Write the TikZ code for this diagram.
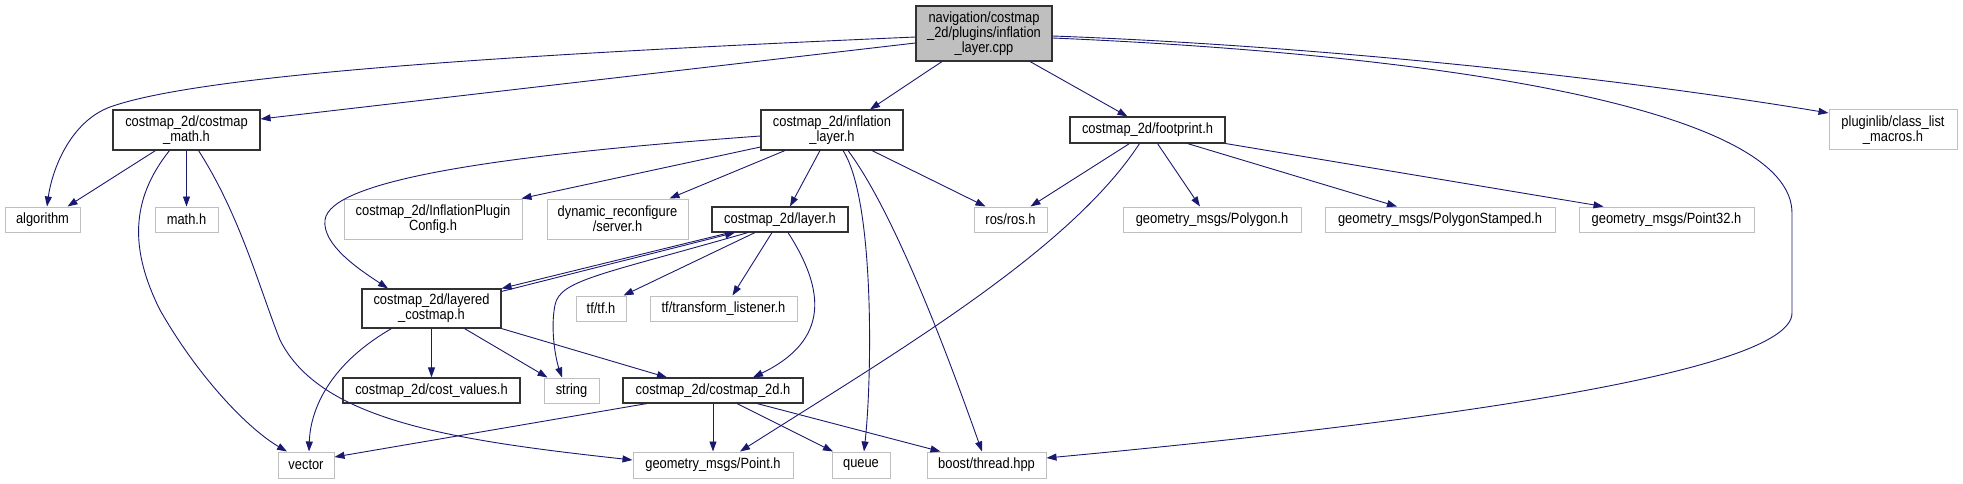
\documentclass[tikz,border=0pt]{standalone}
\usepackage{fontspec}
\setmainfont{Liberation Sans}[FakeStretch=0.87]
\usepackage{tikz}
\usetikzlibrary{arrows.meta}
\definecolor{EdgeBlue}{RGB}{25,25,112}
\definecolor{BoxGray}{RGB}{191,191,191}
\definecolor{FrameDark}{RGB}{50,50,50}

\begin{document}
\begin{tikzpicture}[x=1pt,y=-1pt,>={Triangle[length=10pt,width=7pt]},
  every node/.style={font=\fontsize{14.8}{14.7}\selectfont,align=center,inner sep=0pt},
  boxsize/.style 2 args={minimum width=#1pt,minimum height=#2pt},
  root/.style={draw=FrameDark,fill=BoxGray,line width=1.1pt},
  doc/.style={draw=FrameDark,fill=white,line width=1.1pt},
  ext/.style={draw=BoxGray,fill=white,line width=1pt},
  dep/.style={->,EdgeBlue,line width=0.9pt}]
  \useasboundingbox (0,0) rectangle (1963,484);

  % Fila 0
  \node[root,boxsize={136}{55}] (main) at (984,33.5) {navigation/costmap\\\_2d/plugins/inflation\\\_layer.cpp};

  % Fila 1
  \node[doc,boxsize={147}{40}] (cmath) at (186.5,130) {costmap\_2d/costmap\\\_math.h};
  \node[doc,boxsize={142}{40}] (inflh) at (832,130) {costmap\_2d/inflation\\\_layer.h};
  \node[doc,boxsize={155}{26}] (foot) at (1147.5,130) {costmap\_2d/footprint.h};
  \node[ext,boxsize={128}{40}] (plugin) at (1893,130) {pluginlib/class\_list\\\_macros.h};

  % Fila 2
  \node[ext,boxsize={75}{25}] (algo) at (42.5,219.5) {algorithm};
  \node[ext,boxsize={63}{25}] (mathh) at (186.5,219.5) {math.h};
  \node[ext,boxsize={178}{40}] (ipc) at (433,219) {costmap\_2d/InflationPlugin\\Config.h};
  \node[ext,boxsize={141}{40}] (dynrec) at (617.5,219) {dynamic\_reconfigure\\/server.h};
  \node[doc,boxsize={136}{25}] (layerh) at (780,219.5) {costmap\_2d/layer.h};
  \node[ext,boxsize={73}{25}] (ros) at (1010.5,219.5) {ros/ros.h};
  \node[ext,boxsize={178}{25}] (polygon) at (1212,219.5) {geometry\_msgs/Polygon.h};
  \node[ext,boxsize={230}{25}] (polystamp) at (1440,219.5) {geometry\_msgs/PolygonStamped.h};
  \node[ext,boxsize={175}{25}] (point32) at (1666.5,219.5) {geometry\_msgs/Point32.h};

  % Fila 3
  \node[doc,boxsize={139}{39}] (layered) at (431.5,308.5) {costmap\_2d/layered\\\_costmap.h};
  \node[ext,boxsize={50}{25}] (tfh) at (601,308.5) {tf/tf.h};
  \node[ext,boxsize={147}{25}] (tflisten) at (723.5,308.5) {tf/transform\_listener.h};

  % Fila 4
  \node[doc,boxsize={177}{25}] (costval) at (431.5,390.5) {costmap\_2d/cost\_values.h};
  \node[ext,boxsize={55}{25}] (string) at (571.5,390.5) {string};
  \node[doc,boxsize={180}{25}] (c2d) at (713,390.5) {costmap\_2d/costmap\_2d.h};

  % Fila 5
  \node[ext,boxsize={56}{26}] (vector) at (306,465) {vector};
  \node[ext,boxsize={160}{26}] (pointh) at (713,465) {geometry\_msgs/Point.h};
  \node[ext,boxsize={58}{26}] (queue) at (861,465) {queue};
  \node[ext,boxsize={119}{26}] (boost) at (986.5,465) {boost/thread.hpp};

  % Desde inflation_layer.cpp
  \draw[dep] ([yshift=-3.5pt]main.west) .. controls (500,55) and (200,75) .. (110,107)
    .. controls (70,122) and (52,170) .. ([xshift=4.5pt]algo.north);
  \draw[dep] ([yshift=-9.5pt]main.west) -- ([yshift=11pt]cmath.east);
  \draw[dep] ([xshift=-42pt]main.south) -- ([xshift=38pt]inflh.north);
  \draw[dep] ([xshift=46pt]main.south) -- ([xshift=-20pt]foot.north);
  \draw[dep] ([yshift=-2.5pt]main.east) .. controls (1300,45) and (1600,75) .. ([yshift=17pt]plugin.west);
  \draw[dep] ([yshift=-4.5pt]main.east) .. controls (1450,55) and (1792,110) .. (1792,213)
    -- (1792,313) .. controls (1792,375) and (1400,425) .. ([yshift=7pt]boost.east);

  % Desde inflation_layer.h
  \draw[dep] ([yshift=-6pt]inflh.west) .. controls (500,155) and (330,180) .. (325,220)
    .. controls (322,245) and (360,270) .. ([xshift=-43.5pt]layered.north);
  \draw[dep] ([yshift=-17pt]inflh.west) -- ([xshift=-1pt]ipc.north east);
  \draw[dep] ([xshift=-47pt]inflh.south) -- ([xshift=52pt]dynrec.north);
  \draw[dep] ([xshift=-12pt]inflh.south) -- ([xshift=10pt]layerh.north);
  \draw[dep] ([xshift=11pt]inflh.south) .. controls (875,200) and (872,380) .. ([xshift=3pt]queue.north);
  \draw[dep] ([xshift=16pt]inflh.south) .. controls (900,220) and (960,390) .. ([xshift=-4.5pt]boost.north);
  \draw[dep] ([xshift=40pt]inflh.south) -- ([xshift=-25pt]ros.north);

  % Desde layer.h
  \draw[dep] ([yshift=-3pt]layered.north east) -- ([xshift=-45pt]layerh.south);
  \draw[dep] ([xshift=-50pt]layerh.south) -- (layered.north east);
  \draw[dep] ([xshift=-32pt]layerh.south) .. controls (600,275) and (560,280) .. (555,305)
    .. controls (550,330) and (556,360) .. ([xshift=-9.5pt]string.north);
  \draw[dep] ([xshift=-25pt]layerh.south) -- ([xshift=-3pt]tfh.north east);
  \draw[dep] ([xshift=-8pt]layerh.south) -- ([xshift=9pt]tflisten.north);
  \draw[dep] ([xshift=8pt]layerh.south) .. controls (825,290) and (830,340) .. ([xshift=40pt]c2d.north);

  % Desde layered_costmap.h
  \draw[dep] ([xshift=-40pt]layered.south) .. controls (320,370) and (310,420) .. ([xshift=3pt]vector.north);
  \draw[dep] (layered) -- (costval);
  \draw[dep] ([xshift=33pt]layered.south) -- ([xshift=-24pt]string.north);
  \draw[dep] (layered.south east) -- ([xshift=-46pt]c2d.north);

  % Desde costmap_math.h
  \draw[dep] ([xshift=-31pt]cmath.south) -- ([xshift=25pt]algo.north);
  \draw[dep] (cmath) -- (mathh);
  \draw[dep] ([xshift=-17pt]cmath.south) .. controls (130,200) and (130,250) .. (160,310)
    .. controls (200,380) and (250,430) .. ([xshift=-19pt]vector.north);
  \draw[dep] ([xshift=12pt]cmath.south) .. controls (240,215) and (260,290) .. (280,340)
    .. controls (320,420) and (450,440) .. ([yshift=5pt]pointh.west);

  % Desde costmap_2d.h
  \draw[dep] ([xshift=-66pt]c2d.south) -- ([yshift=8pt]vector.east);
  \draw[dep] (c2d) -- (pointh);
  \draw[dep] ([xshift=24pt]c2d.south) -- ([xshift=-28pt]queue.north);
  \draw[dep] ([xshift=44pt]c2d.south) -- ([xshift=-46pt]boost.north);

  % Desde footprint.h
  \draw[dep] ([xshift=-18pt]foot.south) -- ([xshift=20pt]ros.north);
  \draw[dep] ([xshift=-8pt]foot.south) .. controls (1070,250) and (900,350) .. ([xshift=27pt]pointh.north);
  \draw[dep] ([xshift=10pt]foot.south) -- ([xshift=-12pt]polygon.north);
  \draw[dep] ([xshift=40pt]foot.south) -- ([xshift=-43pt]polystamp.north);
  \draw[dep] (foot.south east) -- ([xshift=-63pt]point32.north);
\end{tikzpicture}
\end{document}
